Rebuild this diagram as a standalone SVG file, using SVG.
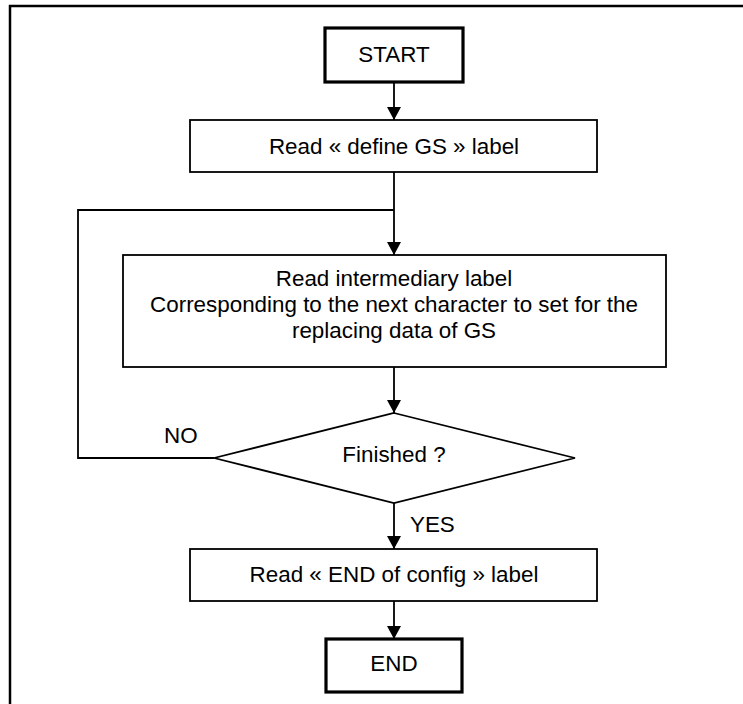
<svg xmlns="http://www.w3.org/2000/svg" width="743" height="704" viewBox="0 0 743 704">
<style>
.box{fill:#fff;stroke:#000;stroke-width:1.8}
.term{fill:#fff;stroke:#000;stroke-width:3.2}
.ln{fill:none;stroke:#000;stroke-width:1.8}
.frame{fill:none;stroke:#000;stroke-width:2.5}
text{font-family:"Liberation Sans",Arial,sans-serif;font-size:22.4px;fill:#000}
.c{text-anchor:middle}
</style>
<defs>
<marker id="ah" viewBox="0 0 13 14" markerWidth="13" markerHeight="14" refX="13" refY="7" orient="auto" markerUnits="userSpaceOnUse">
<path d="M0,0 L13,7 L0,14 z" fill="#000"/>
</marker>
</defs>
<rect width="743" height="704" fill="#fff"/>
<path class="frame" d="M10,704 V6 H743"/>
<g id="connectors">
<path class="ln" d="M394,82 V120" marker-end="url(#ah)"/>
<path class="ln" d="M394,172 V255" marker-end="url(#ah)"/>
<path class="ln" d="M394,367 V413" marker-end="url(#ah)"/>
<path class="ln" d="M214,458 H78 V210 H394"/>
<path class="ln" d="M394,503 V549" marker-end="url(#ah)"/>
<path class="ln" d="M394,601 V639" marker-end="url(#ah)"/>
<text x="164" y="443">NO</text>
<text x="410" y="532">YES</text>
</g>
<g id="start">
<rect class="term" x="325" y="28" width="138" height="54"/>
<text class="c" x="394" y="62">START</text>
</g>
<g id="define">
<rect class="box" x="190" y="120" width="407" height="52"/>
<text class="c" x="394" y="154">Read « define GS » label</text>
</g>
<g id="intermediary">
<rect class="box" x="123" y="255" width="543" height="112"/>
<text class="c" x="394" y="286">Read intermediary label</text>
<text class="c" x="394" y="312">Corresponding to the next character to set for the</text>
<text class="c" x="394" y="338">replacing data of GS</text>
</g>
<g id="finished">
<polygon class="box" points="394,413 575,458 394,503 214,458"/>
<text class="c" x="394" y="462">Finished ?</text>
</g>
<g id="endconfig">
<rect class="box" x="190" y="549" width="407" height="52"/>
<text class="c" x="394" y="582">Read « END of config » label</text>
</g>
<g id="end">
<rect class="term" x="326" y="639" width="136" height="53"/>
<text class="c" x="394" y="671">END</text>
</g>
</svg>
